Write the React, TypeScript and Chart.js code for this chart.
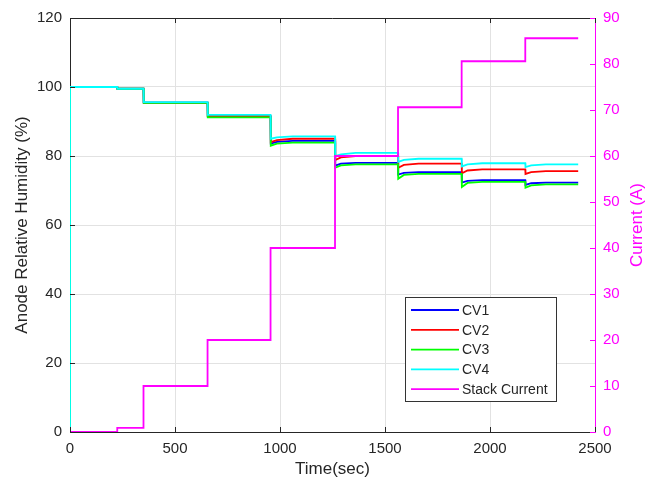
import React, { useEffect, useRef } from "react";
import { Chart, registerables } from "chart.js";
Chart.register(...registerables);

// Humidity sample times (sec)
const humTime = [0, 0, 225, 226, 350, 351, 655, 656, 955, 956, 985, 1060, 1262, 1263, 1290, 1360, 1562, 1563, 1590, 1660, 1865, 1866, 1893, 1963, 2168, 2169, 2196, 2266, 2420];
const cv1 = [0, 100, 100, 99.5, 99.5, 95.5, 95.5, 91.5, 91.5, 83.6, 84.1, 84.4, 84.4, 77.2, 77.8, 78.0, 78.0, 74.6, 75.1, 75.3, 75.3, 72.3, 72.8, 73.0, 73.0, 71.6, 72.1, 72.3, 72.3];
const cv2 = [0, 100, 100, 99.5, 99.5, 95.5, 95.5, 91.6, 91.6, 84.0, 84.6, 85.0, 85.0, 78.8, 79.6, 80.0, 80.0, 76.6, 77.4, 77.8, 77.8, 75.0, 75.8, 76.1, 76.1, 74.8, 75.3, 75.6, 75.6];
const cv3 = [0, 100, 100, 99.5, 99.5, 95.4, 95.4, 91.2, 91.2, 83.0, 83.6, 83.9, 83.9, 76.6, 77.3, 77.6, 77.6, 73.4, 74.5, 74.8, 74.8, 71.0, 72.2, 72.5, 72.5, 70.8, 71.5, 71.8, 71.8];
const cv4 = [0, 100, 100, 99.5, 99.5, 95.6, 95.6, 91.9, 91.9, 85.0, 85.4, 85.7, 85.7, 80.0, 80.5, 80.9, 80.9, 78.3, 78.9, 79.2, 79.2, 77.0, 77.6, 77.9, 77.9, 76.8, 77.3, 77.6, 77.6];

// Stack current
const curTime = [0, 225, 225, 350, 350, 655, 655, 955, 955, 1262, 1262, 1562, 1562, 1865, 1865, 2168, 2168, 2420];
const curVals = [0, 0, 0.9, 0.9, 10, 10, 20, 20, 40, 40, 60, 60, 70.6, 70.6, 80.6, 80.6, 85.6, 85.6];

const seriesLabels = ["CV1", "CV2", "CV3", "CV4", "Stack Current"];
const seriesColors = ["#0000ff", "#ff0000", "#00ff00", "#00ffff", "#ff00ff"];

const xTicks = [0, 500, 1000, 1500, 2000, 2500];
const yTicks = [0, 20, 40, 60, 80, 100, 120];
const y1Ticks = [0, 10, 20, 30, 40, 50, 60, 70, 80, 90];

const FONT = "'Liberation Sans', Arial, Helvetica, sans-serif";
const TXT = "#262626";

const toXY = (xs: number[], ys: number[]) => xs.map((x, i) => ({ x, y: ys[i] }));

const framePlugin = {
  id: "frame",
  afterDatasetsDraw(chart: any) {
    const { ctx, chartArea: a, scales } = chart;
    ctx.save();
    ctx.lineWidth = 1;
    // top border
    ctx.strokeStyle = TXT;
    ctx.beginPath();
    ctx.moveTo(a.left, a.top + 0.5);
    ctx.lineTo(a.right, a.top + 0.5);
    ctx.stroke();
    const tl = 5;
    ctx.beginPath();
    xTicks.forEach((v) => {
      const px = Math.round(scales.x.getPixelForValue(v)) + 0.5;
      ctx.moveTo(px, a.bottom);
      ctx.lineTo(px, a.bottom - tl);
      ctx.moveTo(px, a.top);
      ctx.lineTo(px, a.top + tl);
    });
    yTicks.forEach((v) => {
      const py = Math.round(scales.y.getPixelForValue(v)) + 0.5;
      ctx.moveTo(a.left, py);
      ctx.lineTo(a.left + tl, py);
    });
    ctx.stroke();
    ctx.strokeStyle = "#ff00ff";
    ctx.beginPath();
    y1Ticks.forEach((v) => {
      const py = Math.round(scales.y1.getPixelForValue(v)) + 0.5;
      ctx.moveTo(a.right, py);
      ctx.lineTo(a.right - tl, py);
    });
    ctx.stroke();

    // right axis title (reads bottom to top)
    ctx.save();
    ctx.translate(637, (a.top + a.bottom) / 2);
    ctx.rotate(-Math.PI / 2);
    ctx.font = `17px ${FONT}`;
    ctx.fillStyle = "#ff00ff";
    ctx.textAlign = "center";
    ctx.textBaseline = "middle";
    ctx.fillText("Current (A)", 0, 0);
    ctx.restore();

    // legend
    const bx = 405.5, by = 297.5, bw = 151, bh = 104;
    ctx.fillStyle = "#ffffff";
    ctx.fillRect(bx, by, bw, bh);
    ctx.strokeStyle = "#333333";
    ctx.lineWidth = 1;
    ctx.strokeRect(bx, by, bw, bh);
    ctx.font = `14px ${FONT}`;
    ctx.textBaseline = "middle";
    ctx.textAlign = "left";
    chart.data.datasets.forEach((ds: any, i: number) => {
      const cy = 310 + i * 19.8;
      ctx.strokeStyle = ds.borderColor;
      ctx.lineWidth = 1.8;
      ctx.beginPath();
      ctx.moveTo(411, cy);
      ctx.lineTo(459, cy);
      ctx.stroke();
      ctx.fillStyle = TXT;
      ctx.fillText(ds.label, 462, cy + 1);
    });
    ctx.restore();
  },
};

export default function App() {
  const ref = useRef<HTMLCanvasElement | null>(null);
  useEffect(() => {
    if (!ref.current) return;
    const hum = [cv1, cv2, cv3, cv4];
    const datasets: any[] = hum.map((vals, i) => ({
      label: seriesLabels[i],
      data: toXY(humTime, vals),
      borderColor: seriesColors[i],
      backgroundColor: seriesColors[i],
      borderWidth: 1.8,
      pointRadius: 0,
      tension: 0,
      yAxisID: "y",
      order: 5 - i,
    }));
    datasets.push({
      label: seriesLabels[4],
      data: toXY(curTime, curVals),
      borderColor: seriesColors[4],
      backgroundColor: seriesColors[4],
      borderWidth: 1.8,
      pointRadius: 0,
      tension: 0,
      yAxisID: "y1",
      order: 0,
    });
    const plain = (v: any) => String(v);
    const chart = new Chart(ref.current, {
      type: "line",
      data: { datasets },
      plugins: [framePlugin],
      options: {
        animation: false,
        responsive: false,
        maintainAspectRatio: false,
        layout: { padding: { top: 18, left: 0, right: 0, bottom: 0 } },
        plugins: { legend: { display: false }, tooltip: { enabled: false } },
        scales: {
          x: {
            type: "linear",
            min: 0,
            max: 2500,
            afterBuildTicks: (s: any) => { s.ticks = xTicks.map((v) => ({ value: v })); },
            ticks: { color: TXT, font: { family: FONT, size: 15 }, padding: 8, maxRotation: 0, autoSkip: false, callback: plain },
            grid: { color: "#e2e2e2", drawTicks: false },
            border: { display: true, color: TXT },
            title: { display: true, text: "Time(sec)", color: TXT, font: { family: FONT, size: 17 }, padding: { top: 0, bottom: 4 } },
            afterFit: (s: any) => { s.height = 52; },
          },
          y: {
            type: "linear",
            position: "left",
            min: 0,
            max: 120,
            afterBuildTicks: (s: any) => { s.ticks = yTicks.map((v) => ({ value: v })); },
            ticks: { color: TXT, font: { family: FONT, size: 15 }, padding: 8, callback: plain },
            grid: { color: "#e2e2e2", drawTicks: false },
            border: { display: true, color: TXT },
            title: { display: true, text: "Anode Relative Humidity (%)", color: TXT, font: { family: FONT, size: 17 }, padding: { top: 12, bottom: 0 } },
            afterFit: (s: any) => { s.width = 70; },
          },
          y1: {
            type: "linear",
            position: "right",
            min: 0,
            max: 90,
            afterBuildTicks: (s: any) => { s.ticks = y1Ticks.map((v) => ({ value: v })); },
            ticks: { color: "#ff00ff", font: { family: FONT, size: 15 }, padding: 8, callback: plain },
            grid: { drawOnChartArea: false, drawTicks: false },
            border: { display: true, color: "#ff00ff" },
            title: { display: false },
            afterFit: (s: any) => { s.width = 51; },
          },
        },
      } as any,
    });
    return () => chart.destroy();
  }, []);
  return (
    <div style={{ position: "fixed", left: 0, top: 0, width: 646, height: 484, background: "#fff" }}>
      <canvas ref={ref} width={646} height={484} style={{ width: 646, height: 484 }} />
    </div>
  );
}
